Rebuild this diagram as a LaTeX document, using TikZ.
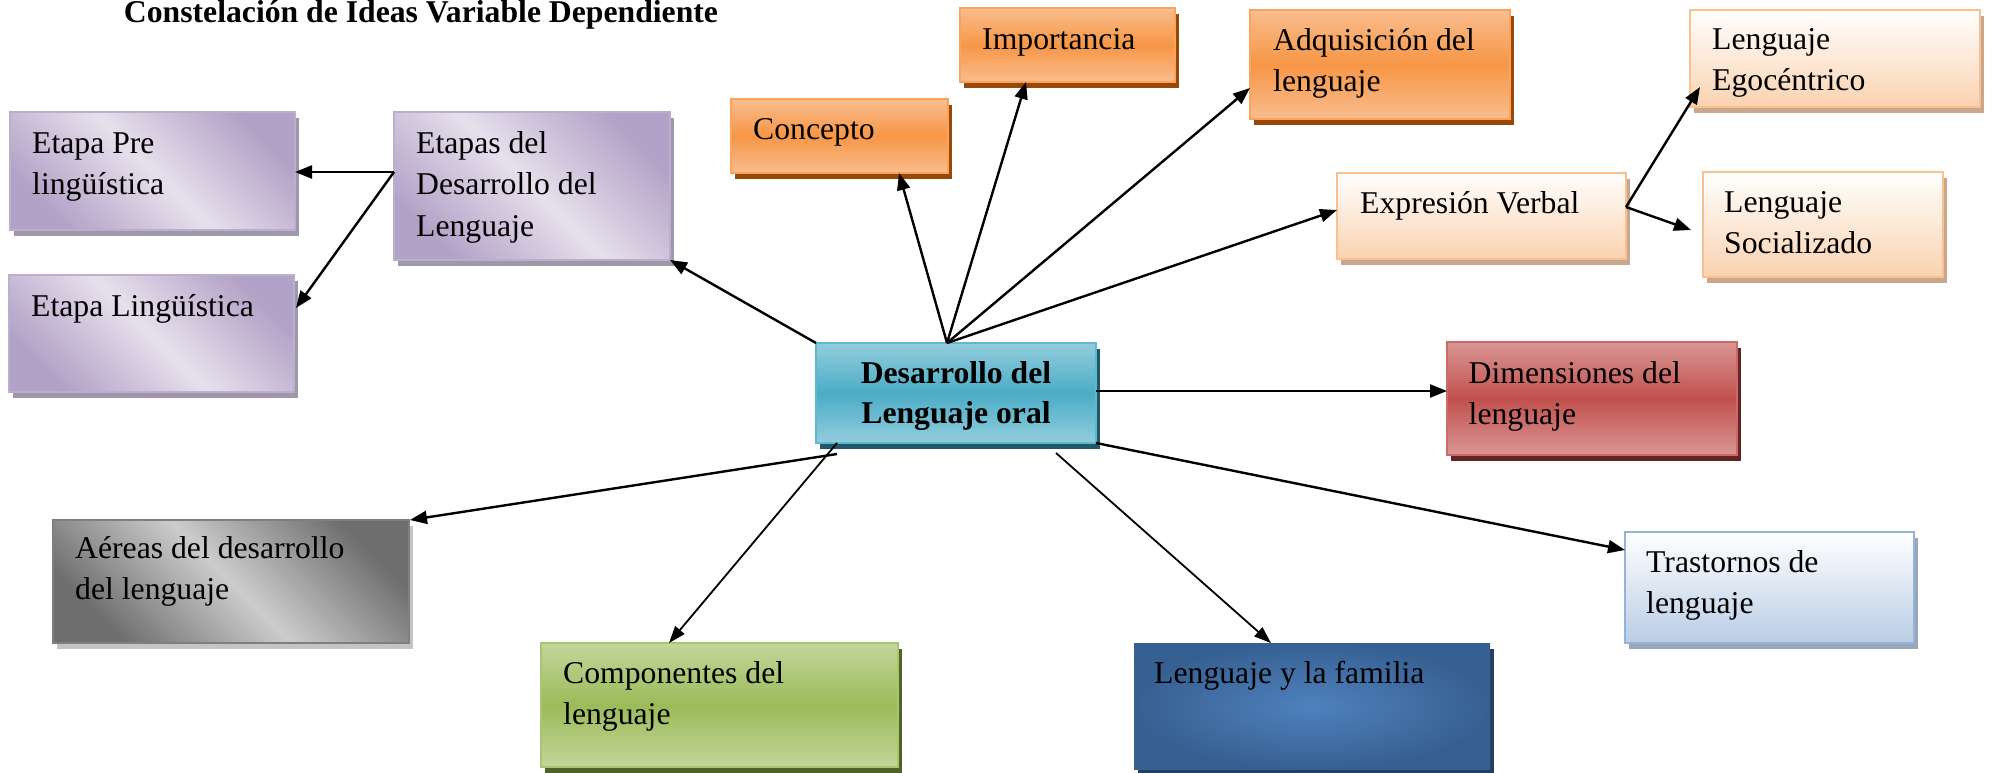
\documentclass[tikz,border=0pt]{standalone}
\usepackage{fontspec}
\setmainfont{Liberation Serif}
\usetikzlibrary{arrows.meta,shadows,calc}
\definecolor{pdark}{HTML}{B3A2C7}
\definecolor{plight}{HTML}{E6E0EC}
\definecolor{pborder}{HTML}{BCAECF}
\definecolor{pshadow}{HTML}{A098AA}
\definecolor{olight}{HTML}{F9BD8E}
\definecolor{omid}{HTML}{F79646}
\definecolor{oborder}{HTML}{F9A35E}
\definecolor{oshadow}{HTML}{984807}
\definecolor{pcbottom}{HTML}{FAD2B0}
\definecolor{pcborder}{HTML}{FAC090}
\definecolor{pcshadow}{HTML}{C8A78C}
\definecolor{tlight}{HTML}{93CDDD}
\definecolor{tmid}{HTML}{4BACC6}
\definecolor{tborder}{HTML}{5FB8CE}
\definecolor{tshadow}{HTML}{215968}
\definecolor{rlight}{HTML}{D99694}
\definecolor{rmid}{HTML}{C0504D}
\definecolor{rborder}{HTML}{CD6A67}
\definecolor{rshadow}{HTML}{632523}
\definecolor{glight}{HTML}{C3D69B}
\definecolor{gmid}{HTML}{9BBB59}
\definecolor{gborder}{HTML}{A8C56F}
\definecolor{gshadow}{HTML}{4F6228}
\definecolor{bouter}{HTML}{376092}
\definecolor{binner}{HTML}{4F81BD}
\definecolor{bshadow}{HTML}{243F60}
\definecolor{lbbottom}{HTML}{B9CDE5}
\definecolor{lbborder}{HTML}{95B3D7}
\definecolor{lbshadow}{HTML}{97A6B8}
\definecolor{gydark}{HTML}{6E6E6E}
\definecolor{gylight}{HTML}{CCCCCC}
\definecolor{gyborder}{HTML}{7F7F7F}
\definecolor{gyshadow}{HTML}{C4C4C4}
\newcommand\lines[1]{\begin{tabular}[t]{@{}l@{}}#1\end{tabular}}
\newcommand\clines[1]{\begin{tabular}[t]{@{}c@{}}#1\end{tabular}}
\begin{document}
\begin{tikzpicture}[x=1pt,y=-1pt,
  box/.style={anchor=north west, inner sep=0pt, outer sep=0pt, line width=2.5pt},
  sh/.style={drop shadow={shadow xshift=4pt,shadow yshift=-6pt,fill=#1,opacity=1}},
  purplebox/.style={draw=pborder, top color=pdark, bottom color=pdark, middle color=plight, shading angle=-45, sh=pshadow},
  orangebox/.style={draw=oborder, top color=olight, bottom color=olight, middle color=omid, sh=oshadow},
  peachbox/.style={draw=pcborder, top color=white, bottom color=pcbottom, sh=pcshadow},
  tealbox/.style={draw=tborder, top color=tlight, bottom color=tlight, middle color=tmid, sh=tshadow},
  redbox/.style={draw=rborder, top color=rlight, bottom color=rlight, middle color=rmid, sh=rshadow},
  greenbox/.style={draw=gborder, top color=glight, bottom color=glight, middle color=gmid, sh=gshadow},
  bluebox/.style={inner color=binner, outer color=bouter, sh=bshadow},
  lightbluebox/.style={draw=lbborder, top color=white, bottom color=lbbottom, sh=lbshadow},
  graybox/.style={draw=gyborder, top color=gydark, bottom color=gydark, middle color=gylight, shading angle=-45, sh=gyshadow},
  txt/.style={anchor=base west, inner sep=0pt, font=\fontsize{31.7pt}{41.5pt}\selectfont},
  arr/.style={draw, line width=2.4pt, -{Triangle[length=17pt,width=13pt]}},
  thinarr/.style={draw, line width=1.8pt, -{Triangle[length=17pt,width=12pt]}}
]
\useasboundingbox (0,0) rectangle (1993,772);

\node[anchor=base, inner sep=0pt, font=\bfseries\fontsize{31.7pt}{38pt}\selectfont] (title) at (421,22) {Constelación de Ideas Variable Dependiente};

% boxes
\node[box,purplebox,minimum width=285pt,minimum height=118pt] (pre) at (10,112) {};
\node[txt] (pre-t) at ($(pre.north west)+(22,41)$) {\lines{Etapa Pre\\lingüística}};

\node[box,purplebox,minimum width=285pt,minimum height=117pt] (ling) at (9,275) {};
\node[txt] (ling-t) at ($(ling.north west)+(22,41)$) {\lines{Etapa Lingüística}};

\node[box,purplebox,minimum width=276pt,minimum height=148pt] (etapas) at (394,112) {};
\node[txt] (etapas-t) at ($(etapas.north west)+(22,41)$) {\lines{Etapas del\\Desarrollo del\\Lenguaje}};

\node[box,orangebox,minimum width=217pt,minimum height=74pt] (concepto) at (731,99) {};
\node[txt] (concepto-t) at ($(concepto.north west)+(22,40)$) {\lines{Concepto}};

\node[box,orangebox,minimum width=215pt,minimum height=74pt] (importancia) at (960,8) {};
\node[txt] (importancia-t) at ($(importancia.north west)+(22,41)$) {\lines{Importancia}};

\node[box,orangebox,minimum width=260pt,minimum height=109pt] (adquis) at (1250,10) {};
\node[txt] (adquis-t) at ($(adquis.north west)+(23,40)$) {\lines{Adquisición del\\lenguaje}};

\node[box,peachbox,minimum width=290pt,minimum height=97pt] (ego) at (1690,10) {};
\node[txt] (ego-t) at ($(ego.north west)+(22,39)$) {\lines{Lenguaje\\Egocéntrico}};

\node[box,peachbox,minimum width=289pt,minimum height=86pt] (expresion) at (1337,173) {};
\node[txt] (expresion-t) at ($(expresion.north west)+(23,40)$) {\lines{Expresión Verbal}};

\node[box,peachbox,minimum width=240pt,minimum height=105pt] (social) at (1703,172) {};
\node[txt] (social-t) at ($(social.north west)+(21,40)$) {\lines{Lenguaje\\Socializado}};

\node[box,tealbox,minimum width=280pt,minimum height=100pt] (central) at (816,343) {};
\node[anchor=base, inner sep=0pt, font=\bfseries\fontsize{31.7pt}{40.5pt}\selectfont] (central-t) at ($(central.north)+(0,40)$) {\clines{Desarrollo del\\Lenguaje oral}};

\node[box,redbox,minimum width=290pt,minimum height=113pt] (dimens) at (1447,342) {};
\node[txt] (dimens-t) at ($(dimens.north west)+(21.5,41)$) {\lines{Dimensiones del\\lenguaje}};

\node[box,graybox,minimum width=356pt,minimum height=123pt] (areas) at (53,520) {};
\node[txt] (areas-t) at ($(areas.north west)+(22,38)$) {\lines{Aéreas del desarrollo\\del lenguaje}};

\node[box,greenbox,minimum width=357pt,minimum height=124pt] (compon) at (541,643) {};
\node[txt] (compon-t) at ($(compon.north west)+(22,40)$) {\lines{Componentes del\\lenguaje}};

\node[box,bluebox,minimum width=356pt,minimum height=126pt] (familia) at (1134,643) {};
\node[txt] (familia-t) at ($(familia.north west)+(20,40)$) {\lines{Lenguaje y la familia}};

\node[box,lightbluebox,minimum width=289pt,minimum height=111pt] (trast) at (1625,532) {};
\node[txt] (trast-t) at ($(trast.north west)+(21,40)$) {\lines{Trastornos de\\lenguaje}};

% connector coordinates
\coordinate (etapasL) at ($(etapas.north west)+(0,60)$);
\coordinate (hub) at ($(central.north west)+(131,0)$);
\coordinate (expR) at ($(expresion.north east)+(0,34)$);
\coordinate (cenR) at ($(central.north east)+(0,48)$);
\coordinate (cenBL1) at ($(central.south west)+(21,0)$);
\coordinate (cenBL2) at ($(central.south west)+(21,11)$);
\coordinate (cenB) at ($(central.south west)+(240,10)$);

% connectors
\draw[arr] (etapasL) -- (pre.east |- etapasL);
\draw[arr] (etapasL) -- ($(ling.north east)+(2,33)$);
\draw[arr] (central.north west) -- (etapas.south east);
\draw[arr] (hub) -- ($(concepto.south west)+(168,0)$);
\draw[arr] (hub) -- ($(importancia.south west)+(66,0)$);
\draw[arr] (hub) -- ($(adquis.north west)+(0,78)$);
\draw[arr] (hub) -- ($(expresion.north west)+(0,37)$);
\draw[arr] (expR) -- ($(ego.south west)+(10,-20)$);
\draw[arr] (expR) -- ($(social.north west)+(-12,58)$);
\draw[arr] (cenR) -- (dimens.west |- cenR);
\draw[arr] (central.south east) -- ($(trast.north west)+(0,18)$);
\draw[thinarr] (cenB) -- ($(familia.north west)+(137,0)$);
\draw[thinarr] (cenBL1) -- ($(compon.north west)+(128,0)$);
\draw[arr] (cenBL2) -- ($(areas.north east)+(1,0)$);
\end{tikzpicture}
\end{document}
